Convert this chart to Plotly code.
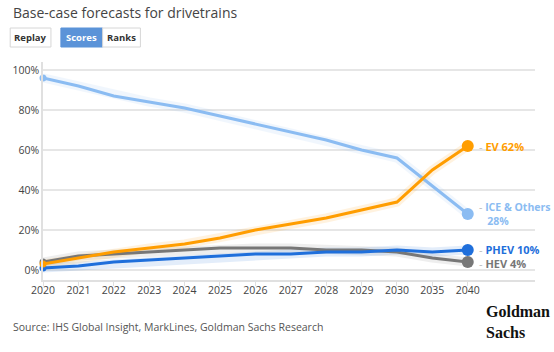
import plotly.graph_objects as go

years = ["2020", "2021", "2022", "2023", "2024", "2025", "2026", "2027", "2028", "2029", "2030", "2035", "2040"]
ice = [96, 92, 87, 84, 81, 77, 73, 69, 65, 60, 56, 42, 28]
ev = [3, 6, 9, 11, 13, 16, 20, 23, 26, 30, 34, 50, 62]
hev = [4, 7, 8, 9, 10, 11, 11, 11, 10, 10, 9, 6, 4]
phev = [1, 2, 4, 5, 6, 7, 8, 8, 9, 9, 10, 9, 10]
series = [
    ("ICE &amp; Others", ice, "#8bbcf2", "28%"),
    ("HEV", hev, "#777777", "4%"),
    ("PHEV", phev, "#1f6fdb", "10%"),
    ("EV", ev, "#ff9d00", "62%"),
]
ytick_vals = [0, 20, 40, 60, 80, 100]
ytick_text = ["0%", "20%", "40%", "60%", "80%", "100%"]

W, H = 554, 352
L, R, T, B = 40, 19, 62, 72
pw, ph = W - L - R, H - T - B

def px(x):
    return (x - L) / pw

def py(y):
    return (H - B - y) / ph

fig = go.Figure()
for name, vals, col, lab in series:
    fig.add_trace(go.Scatter(x=years, y=vals, mode="lines", line=dict(color=col, width=9),
                             opacity=0.12, hoverinfo="skip", showlegend=False, cliponaxis=False))
for name, vals, col, lab in series:
    fig.add_trace(go.Scatter(x=years, y=vals, mode="lines", line=dict(color=col, width=3),
                             showlegend=False, cliponaxis=False, name=name))
    fig.add_trace(go.Scatter(x=[years[0]], y=[vals[0]], mode="markers",
                             marker=dict(color=col, size=7), showlegend=False, cliponaxis=False))
    fig.add_trace(go.Scatter(x=[years[-1]], y=[vals[-1]], mode="markers",
                             marker=dict(color=col, size=12), showlegend=False, cliponaxis=False))

dash = '<span style="color:#bbbbbb">-</span> '
last = len(years) - 1
ann = []
for name, vals, col, lab in series:
    if name.startswith("ICE"):
        txt = dash + "<b>" + name + "</b><br>   <b>" + lab + "</b>"
        ann.append(dict(x=last, y=vals[-1], xref="x", yref="y", text=txt, showarrow=False,
                        xanchor="left", yanchor="middle", xshift=9, yshift=0, align="left",
                        font=dict(family="Open Sans", size=10.5, color=col)))
    else:
        txt = dash + "<b>" + name + " " + lab + "</b>"
        ys = {"EV": 0, "PHEV": 1, "HEV": -1}[name]
        ann.append(dict(x=last, y=vals[-1], xref="x", yref="y", text=txt, showarrow=False,
                        xanchor="left", yanchor="middle", xshift=9, yshift=ys,
                        font=dict(family="Open Sans", size=11, color=col)))

ann += [
    dict(x=px(8), y=py(12), xref="paper", yref="paper", text="Base-case forecasts for drivetrains",
         showarrow=False, xanchor="left", yanchor="middle",
         font=dict(family="Open Sans", size=14, color="#444444")),
    dict(x=px(27.5), y=py(37.5), xref="paper", yref="paper", text="<b>Replay</b>", showarrow=False,
         xanchor="center", yanchor="middle", font=dict(family="Open Sans", size=9.5, color="#333333")),
    dict(x=px(79), y=py(37.5), xref="paper", yref="paper", text="<b>Scores</b>", showarrow=False,
         xanchor="center", yanchor="middle", font=dict(family="Open Sans", size=9.5, color="#ffffff")),
    dict(x=px(119), y=py(37.5), xref="paper", yref="paper", text="<b>Ranks</b>", showarrow=False,
         xanchor="center", yanchor="middle", font=dict(family="Open Sans", size=9.5, color="#333333")),
    dict(x=px(8), y=py(327), xref="paper", yref="paper",
         text="Source: IHS Global Insight, MarkLines, Goldman Sachs Research", showarrow=False,
         xanchor="left", yanchor="middle", font=dict(family="Open Sans", size=10.5, color="#555555")),
    dict(x=px(484), y=py(322), xref="paper", yref="paper", text="<b>Goldman<br>Sachs</b>",
         showarrow=False, xanchor="left", yanchor="middle", align="left",
         font=dict(family="Liberation Serif", size=16, color="#111111")),
]

shapes = [
    dict(type="rect", xref="paper", yref="paper", x0=px(7), x1=px(48), y0=py(28), y1=py(47),
         line=dict(color="#d6d6d6", width=1), fillcolor="#ffffff"),
    dict(type="rect", xref="paper", yref="paper", x0=px(58), x1=px(100), y0=py(28), y1=py(47),
         line=dict(color="#5b93d8", width=1), fillcolor="#5b93d8"),
    dict(type="rect", xref="paper", yref="paper", x0=px(100), x1=px(138), y0=py(28), y1=py(47),
         line=dict(color="#d6d6d6", width=1), fillcolor="#ffffff"),
]

fig.update_layout(
    width=W, height=H, margin=dict(l=L, r=R, t=T, b=B),
    paper_bgcolor="#ffffff", plot_bgcolor="#ffffff",
    annotations=ann, shapes=shapes,
    xaxis=dict(type="category", categoryorder="array", categoryarray=years, range=[0, 13.9],
               showgrid=False, showline=True, linecolor="#e0e0e0", linewidth=1.5,
               ticks="outside", ticklen=4, tickcolor="#e0e0e0", ticklabelstandoff=-4,
               tickfont=dict(family="Open Sans", size=10.5, color="#444444"), zeroline=False,
               fixedrange=True),
    yaxis=dict(range=[-5, 104], tickvals=ytick_vals, ticktext=ytick_text,
               showgrid=True, gridcolor="#e6e6e6", gridwidth=1.5, zeroline=False,
               showline=True, linecolor="#e0e0e0", linewidth=1.5, ticks="", ticklen=0,
               tickfont=dict(family="Open Sans", size=10.5, color="#444444"), fixedrange=True),
)

fig.write_html("out.html")
